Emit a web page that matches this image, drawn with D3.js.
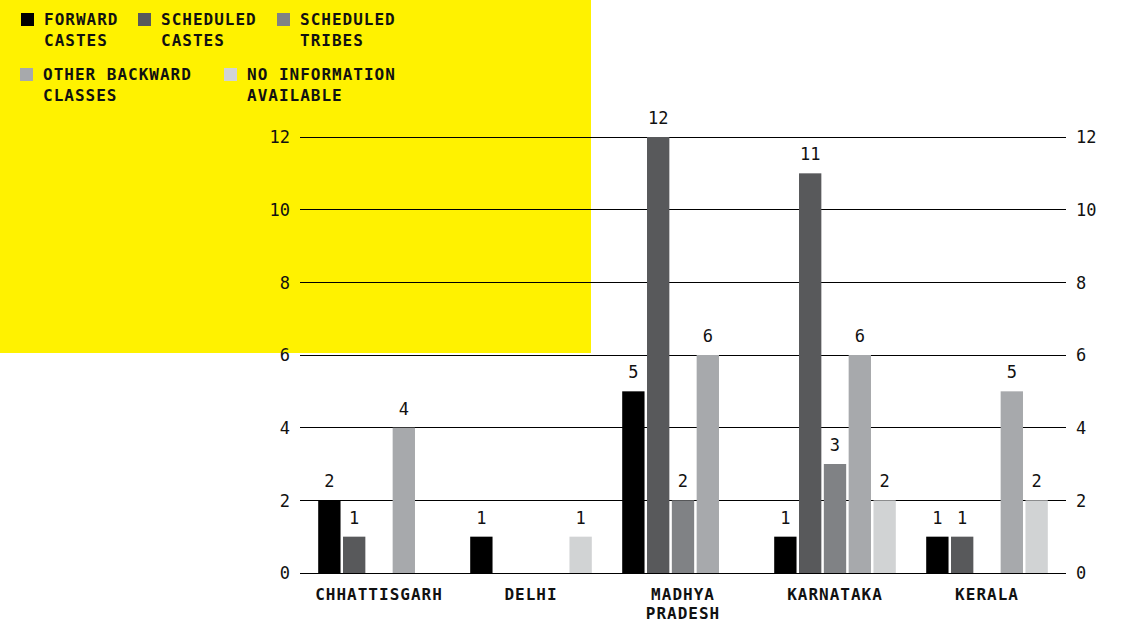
<!DOCTYPE html>
<html><head><meta charset="utf-8">
<script src="https://cdn.jsdelivr.net/npm/d3@7"></script>
<style>
html,body{margin:0;padding:0;background:#fff;}
svg{display:block;}
text{font-family:"DejaVu Sans Mono",monospace;}
</style></head><body>
<svg id="c" width="1123" height="623"></svg>
<script>
const states = ["CHHATTISGARH","DELHI","MADHYA PRADESH","KARNATAKA","KERALA"];
const seriesNames = ["FORWARD CASTES","SCHEDULED CASTES","SCHEDULED TRIBES","OTHER BACKWARD CLASSES","NO INFORMATION AVAILABLE"];
const forwardCastes = [2,1,5,1,1];
const scheduledCastes = [1,0,12,11,1];
const scheduledTribes = [0,0,2,3,0];
const otherBackward = [4,0,6,6,5];
const noInformation = [0,1,0,2,2];
const yTicks = [0,2,4,6,8,10,12];
const colors = ["#000000","#58595b","#808285","#a7a9ac","#d1d3d4"];
const legendLines = [["FORWARD","CASTES"],["SCHEDULED","CASTES"],["SCHEDULED","TRIBES"],["OTHER BACKWARD","CLASSES"],["NO INFORMATION","AVAILABLE"]];

const seriesValues = [forwardCastes, scheduledCastes, scheduledTribes, otherBackward, noInformation];

const svg = d3.select("#c");
svg.append("rect").attr("x",0).attr("y",0).attr("width",591).attr("height",353).attr("fill","#fff200");

const left = 303, right = 1063;
const x0 = d3.scaleBand().domain(states).range([left,right]).paddingInner(0.2).paddingOuter(0.1);
const x1 = d3.scaleBand().domain(d3.range(seriesNames.length)).range([0,x0.bandwidth()]).paddingInner(0.1);
const y = d3.scaleLinear().domain([0,12]).range([573,137]);

const grid = svg.append("g");
grid.selectAll("line").data(yTicks).join("line")
  .attr("x1",300).attr("x2",1066)
  .attr("y1",d=>y(d)).attr("y2",d=>y(d))
  .attr("stroke","#000").attr("stroke-width",1).attr("shape-rendering","crispEdges");

const yl = d3.axisLeft(y).tickValues(yTicks).tickSize(0).tickPadding(0);
const gL = svg.append("g").attr("transform","translate(290,0)").call(yl);
gL.select(".domain").remove();
gL.selectAll("text").attr("font-family","DejaVu Sans Mono").attr("font-size",17).attr("fill","#111").attr("dy","0.35em");
const yr = d3.axisRight(y).tickValues(yTicks).tickSize(0).tickPadding(0);
const gR = svg.append("g").attr("transform","translate(1076,0)").call(yr);
gR.select(".domain").remove();
gR.selectAll("text").attr("font-family","DejaVu Sans Mono").attr("font-size",17).attr("fill","#111").attr("dy","0.35em");

const groups = svg.append("g").selectAll("g").data(states).join("g")
  .attr("transform",d=>`translate(${x0(d)},0)`);
groups.each(function(st, si){
  const g = d3.select(this);
  const data = seriesValues.map((arr,k)=>({k, v:arr[si]}));
  g.selectAll("rect").data(data.filter(d=>d.v>0)).join("rect")
    .attr("x",d=>x1(d.k)).attr("width",x1.bandwidth())
    .attr("y",d=>y(d.v)).attr("height",d=>y(0)-y(d.v))
    .attr("fill",d=>colors[d.k]);
  g.selectAll("text").data(data.filter(d=>d.v>0)).join("text")
    .attr("x",d=>x1(d.k)+x1.bandwidth()/2).attr("y",d=>y(d.v)-13)
    .attr("text-anchor","middle").attr("font-size",17).attr("fill","#111")
    .text(d=>d.v);
});

const xa = d3.axisBottom(x0).tickSize(0).tickPadding(0);
const gX = svg.append("g").attr("transform","translate(0,600)").call(xa);
gX.select(".domain").remove();
gX.selectAll("text").each(function(d){
  const t = d3.select(this);
  t.text(null).attr("dy",null).attr("y",0)
   .attr("font-family","DejaVu Sans Mono").attr("font-weight","bold").attr("font-size",16)
   .attr("letter-spacing","1px").attr("fill","#111");
  const parts = d.split(" ");
  parts.forEach((p,i)=>t.append("tspan").attr("x",0).attr("y",i*19).text(p));
});

const legPos = [[21,13],[138,13],[277,13],[20,68],[224,68]];
const leg = svg.append("g");
legendLines.forEach((lines,i)=>{
  const [lx,ly] = legPos[i];
  leg.append("rect").attr("x",lx).attr("y",ly).attr("width",13).attr("height",13).attr("fill",colors[i]);
  const t = leg.append("text").attr("font-weight","bold").attr("font-size",16)
    .attr("letter-spacing","1px").attr("fill","#111");
  lines.forEach((l,j)=>t.append("tspan").attr("x",lx+23).attr("y",ly+12+j*21).text(l));
});
</script></body></html>
